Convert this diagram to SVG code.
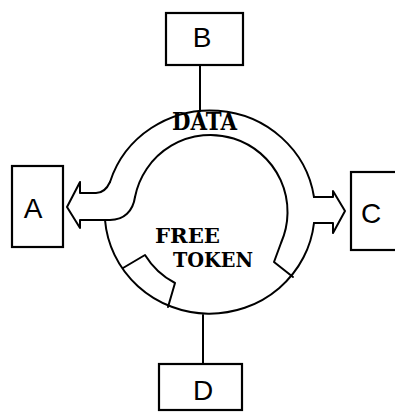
<svg xmlns="http://www.w3.org/2000/svg" width="395" height="412" viewBox="0 0 395 412">
<style>
.box{fill:#fff;stroke:#000;stroke-width:2.2}
.ln{fill:none;stroke:#000;stroke-width:2;stroke-linejoin:round;stroke-linecap:round}
.lbl{font-family:"Liberation Sans",Arial,sans-serif;font-size:28px;fill:#000}
.tw{font-family:"DejaVu Serif","Liberation Serif",serif;font-weight:bold;fill:#000}
</style>
<rect width="395" height="412" fill="#fff"/>
<g id="connectors">
<line class="ln" x1="200" y1="65" x2="200" y2="111"/>
<line class="ln" x1="203" y1="315" x2="203" y2="364"/>
</g>
<g id="ring">
<path class="ln" d="M135,197 C133,211 124,220 110,220 L80,220 L80,228 L67,207 L80,182 L80,193 L96,193 Q105,193 110,182"/>
<path class="ln" d="M110,182 A105 102 0 0 1 314,197"/>
<path class="ln" d="M314,197 L333,197 L333,191 L345,211 L333,233 L333,223 L314,223"/>
<path class="ln" d="M314,223 A105 102 0 0 1 105,220"/>
<path class="ln" d="M135,197 A77 77 0 1 1 281,243 L274,262 L293,277"/>
<path class="ln" d="M123,268 L145,255 A77 77 0 0 0 175,283 L168,307"/>
<text class="tw" x="172" y="130" font-size="24" textLength="65" lengthAdjust="spacingAndGlyphs">DATA</text>
<text class="tw" x="155" y="243" font-size="21" textLength="65" lengthAdjust="spacingAndGlyphs">FREE</text>
<text class="tw" x="173" y="267" font-size="21" textLength="80" lengthAdjust="spacingAndGlyphs">TOKEN</text>
</g>
<g id="nodeA">
<rect class="box" x="12" y="166" width="51" height="81"/>
<text class="lbl" x="33" y="218" text-anchor="middle">A</text>
</g>
<g id="nodeB">
<rect class="box" x="166" y="13" width="77" height="52"/>
<text class="lbl" x="202" y="47" text-anchor="middle">B</text>
</g>
<g id="nodeC">
<rect class="box" x="351" y="172" width="60" height="78"/>
<text class="lbl" x="371" y="223" text-anchor="middle">C</text>
</g>
<g id="nodeD">
<rect class="box" x="159" y="364" width="83" height="46"/>
<text class="lbl" x="203" y="400" text-anchor="middle">D</text>
</g>
</svg>
